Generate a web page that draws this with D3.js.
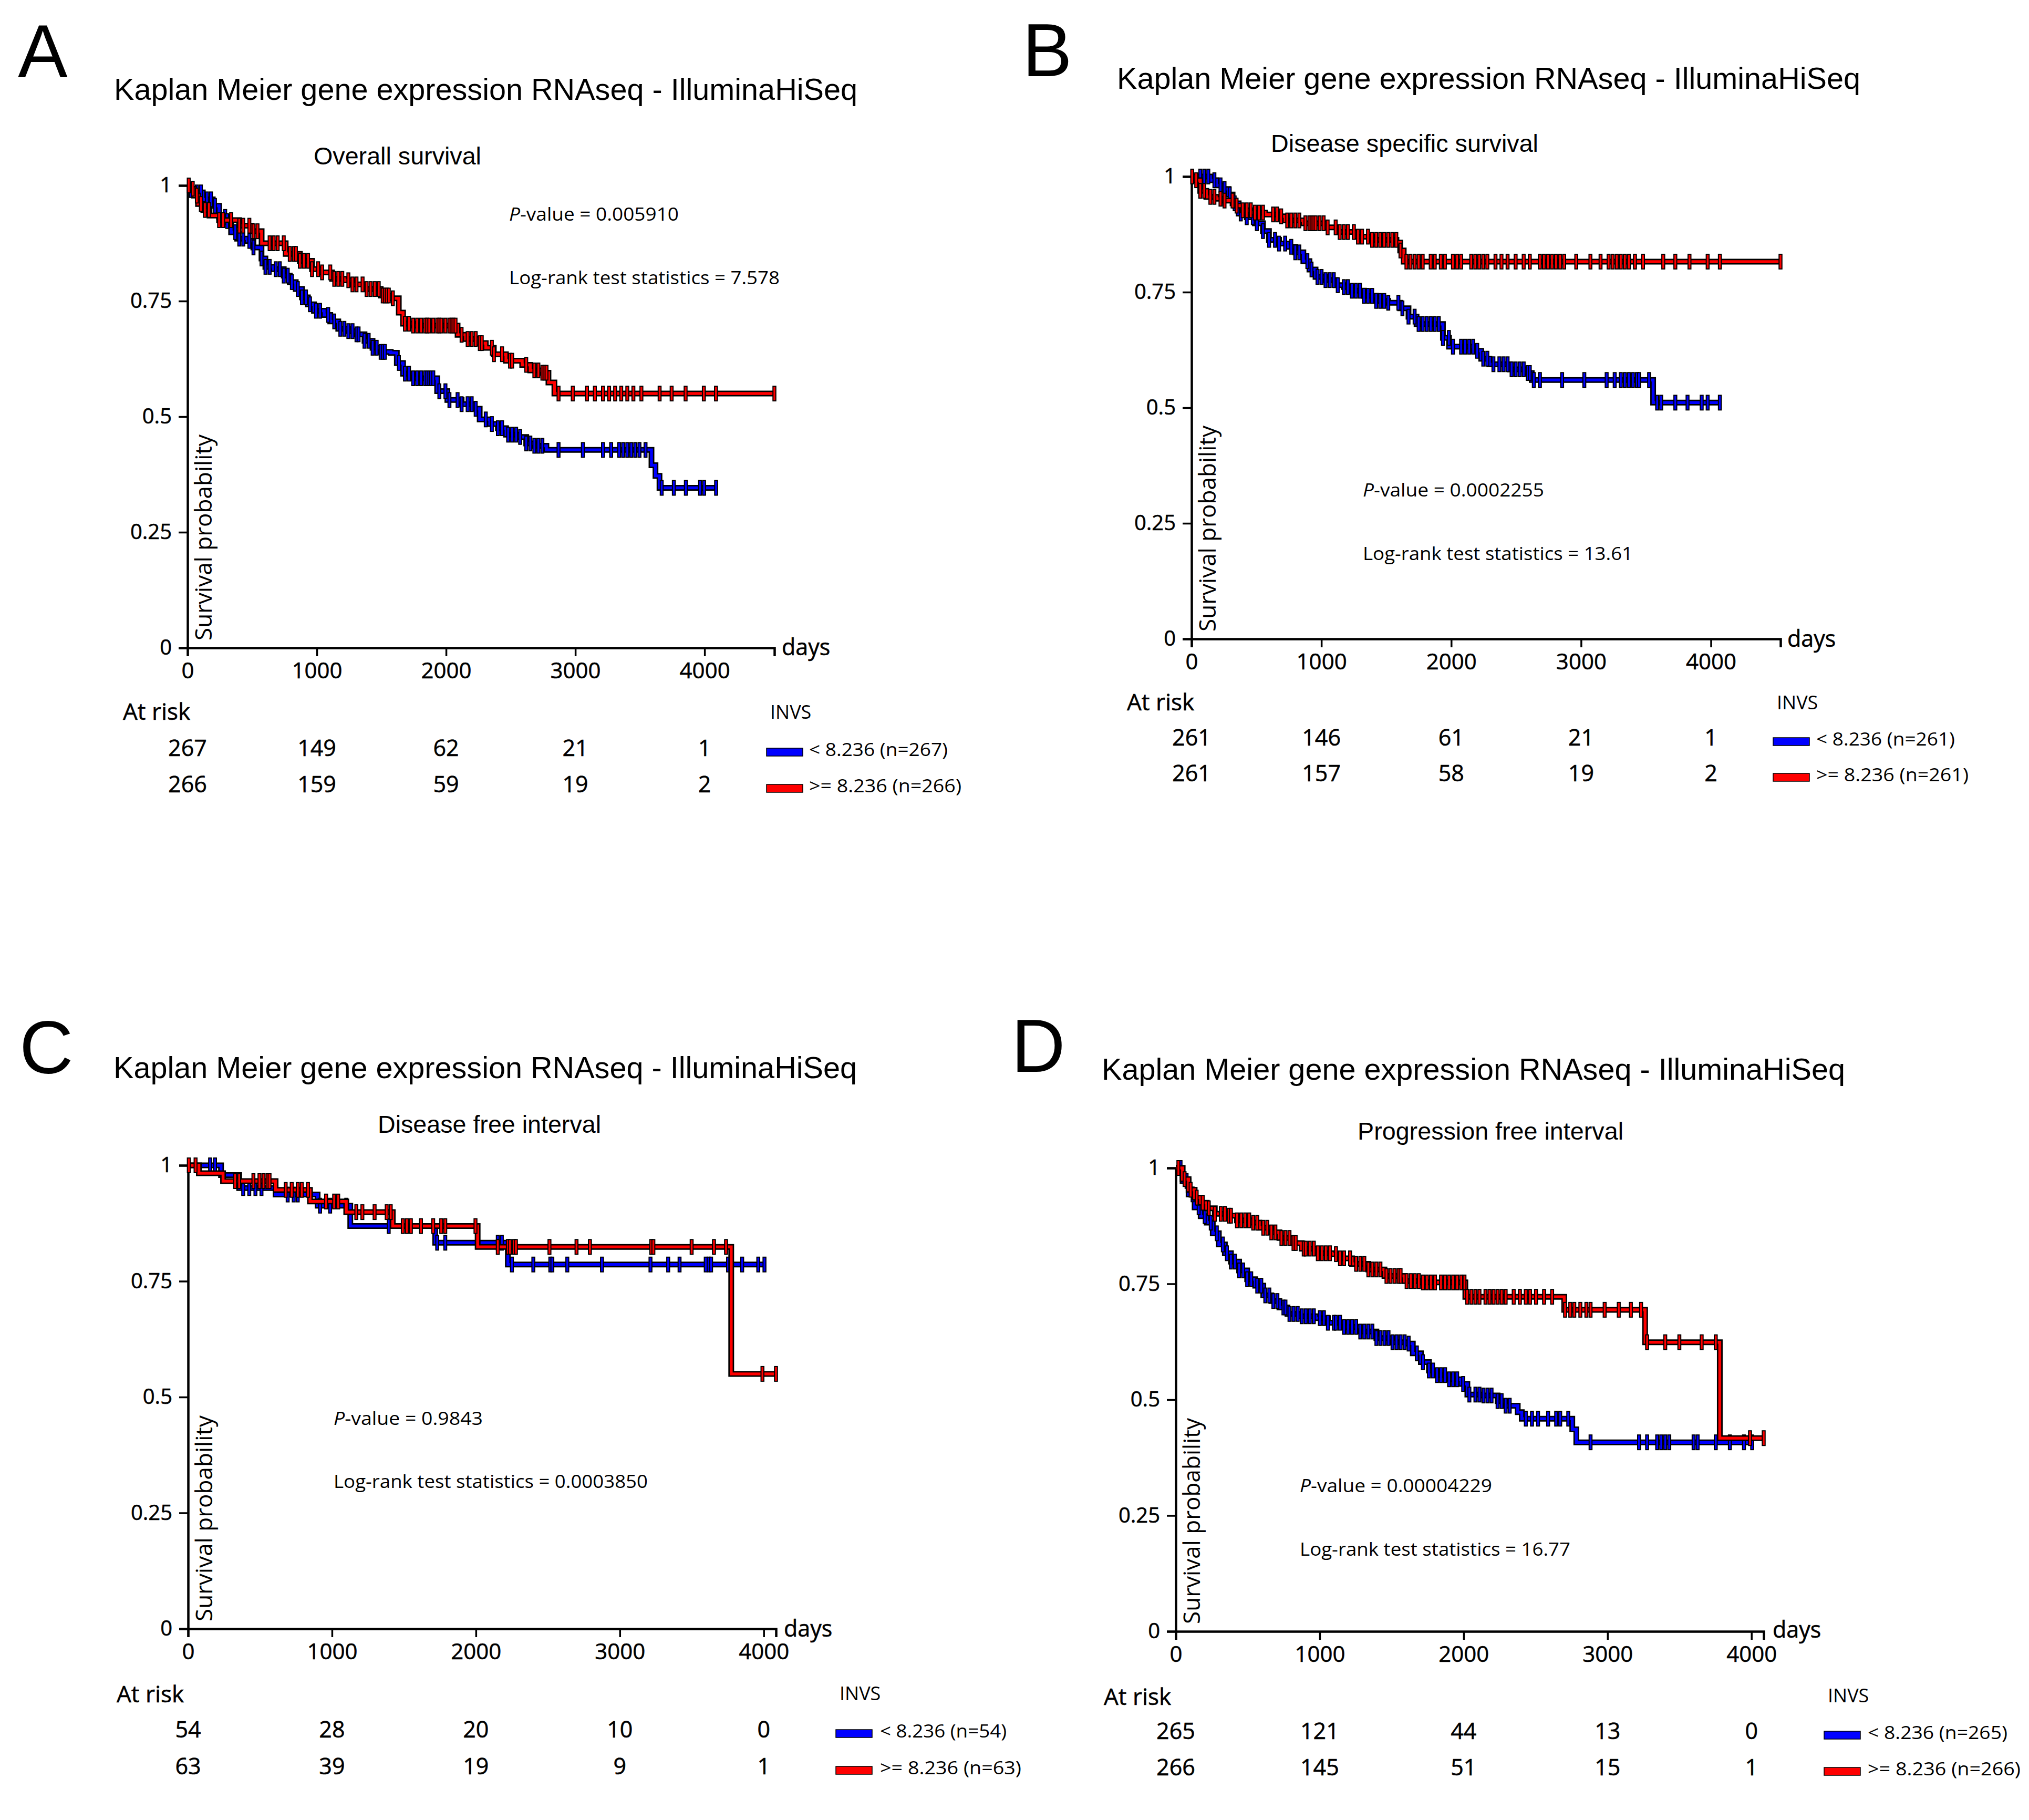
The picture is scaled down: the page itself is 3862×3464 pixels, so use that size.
<!DOCTYPE html>
<html><head><meta charset="utf-8">
<script src="https://cdn.jsdelivr.net/npm/d3@7/dist/d3.min.js"></script>
<style>body{margin:0;background:#fff}svg{display:block}</style>
</head><body>
<svg id="c" width="3862" height="3464" xmlns="http://www.w3.org/2000/svg"></svg>
<script>
// ---------------- DATA ----------------
const xTicks = [0, 1000, 2000, 3000, 4000];
const yTicks = [0, 0.25, 0.5, 0.75, 1];
const panelLetters = ['A', 'B', 'C', 'D'];
const mainTitle = 'Kaplan Meier gene expression RNAseq - IlluminaHiSeq';
const subtitles = ['Overall survival', 'Disease specific survival', 'Disease free interval', 'Progression free interval'];
const pValues = ['0.005910', '0.0002255', '0.9843', '0.00004229'];
const logRankStats = ['7.578', '13.61', '0.0003850', '16.77'];
const geneName = 'INVS';
const cutoff = '8.236';
const nLow = [267, 261, 54, 265];
const nHigh = [266, 261, 63, 266];
const atRiskLow = [[267, 149, 62, 21, 1], [261, 146, 61, 21, 1], [54, 28, 20, 10, 0], [265, 121, 44, 13, 0]];
const atRiskHigh = [[266, 159, 59, 19, 2], [261, 157, 58, 19, 2], [63, 39, 19, 9, 1], [266, 145, 51, 15, 1]];

// Panel A: overall survival  [day, survival after drop]
const aLowSteps = [[25,.99],[57,.985],[118,.97],[195,.956],[244,.932],[305,.923],[337,.899],[384,.885],[462,.88],[509,.866],[572,.842],[602,.824],[665,.819],[744,.805],[791,.791],[837,.776],[885,.758],[931,.743],[978,.729],[1057,.72],[1104,.706],[1166,.69],[1244,.685],[1307,.678],[1369,.664],[1431,.649],[1494,.64],[1572,.638],[1619,.616],[1667,.593],[1744,.583],[1931,.555],[2010,.536],[2120,.527],[2213,.517],[2260,.494],[2338,.484],[2401,.475],[2464,.461],[2557,.456],[2620,.442],[2682,.437],[2776,.428],[3589,.395],[3620,.372],[3651,.346]];
const aLowCensor = [25,72,103,150,181,212,291,306,369,400,431,478,510,572,603,635,682,713,744,775,807,853,885,916,947,994,1025,1088,1135,1182,1213,1244,1276,1307,1323,1369,1401,1432,1463,1494,1510,1526,1635,1682,1713,1745,1776,1807,1838,1854,1870,1885,1901,1948,1995,2026,2089,2120,2167,2198,2229,2307,2354,2401,2433,2480,2511,2542,2573,2620,2652,2683,2714,2745,2870,3058,3214,3277,3339,3370,3402,3433,3464,3496,3543,3668,3762,3855,3965,3996,4089];
const aHighSteps = [[20,.993],[50,.978],[81,.96],[122,.947],[170,.935],[244,.925],[399,.913],[492,.901],[573,.875],[759,.852],[869,.837],[963,.819],[1024,.812],[1118,.798],[1212,.795],[1276,.786],[1370,.776],[1494,.762],[1572,.756],[1634,.725],[1667,.701],[1745,.697],[2089,.677],[2151,.668],[2244,.659],[2307,.649],[2369,.635],[2463,.621],[2589,.612],[2651,.6],[2745,.595],[2792,.574],[2838,.55]];
const aHighCensor = [9,40,72,103,134,165,244,275,337,400,431,478,510,541,635,666,697,744,791,822,838,869,900,932,963,1010,1041,1104,1135,1166,1197,1244,1276,1307,1354,1385,1416,1448,1479,1510,1526,1541,1557,1588,1682,1713,1745,1776,1807,1838,1854,1870,1901,1932,1948,1964,1995,2026,2042,2057,2073,2120,2167,2198,2229,2261,2276,2354,2370,2433,2495,2511,2620,2683,2714,2745,2761,2777,2870,2980,3090,3151,3214,3261,3308,3355,3402,3449,3511,3652,3745,3853,3994,4088,4540];

// Panel B: disease specific survival
const bLowSteps = [[145,.992],[191,.981],[239,.973],[285,.961],[316,.942],[363,.92],[425,.912],[488,.899],[550,.882],[596,.863],[674,.855],[737,.848],[799,.836],[861,.817],[908,.799],[955,.783],[1032,.776],[1110,.765],[1172,.761],[1235,.753],[1328,.742],[1421,.731],[1515,.727],[1607,.715],[1671,.697],[1733,.681],[1936,.651],[1983,.632],[2170,.623],[2231,.606],[2294,.594],[2450,.583],[2574,.575],[2620,.56],[3555,.511]];
const bLowCensor = [67,98,129,176,223,254,294,332,379,425,472,503,550,597,643,674,721,768,799,830,892,924,970,1001,1032,1064,1095,1126,1173,1204,1235,1266,1297,1328,1359,1391,1422,1453,1484,1515,1593,1624,1671,1718,1749,1780,1811,1842,1873,1904,1936,1982,2013,2076,2107,2138,2169,2200,2247,2278,2325,2371,2403,2434,2465,2496,2527,2558,2589,2605,2636,2683,2854,3025,3197,3259,3306,3337,3368,3399,3430,3446,3524,3586,3617,3726,3820,3929,3975,4069];
const bHighSteps = [[20,.992],[67,.969],[114,.956],[190,.952],[239,.948],[332,.937],[393,.927],[457,.922],[566,.918],[674,.914],[721,.905],[861,.899],[1032,.89],[1125,.88],[1266,.87],[1391,.863],[1578,.857],[1607,.84],[1634,.816]];
const bHighCensor = [5,36,67,98,145,176,223,254,316,347,394,425,456,488,519,550,628,659,690,737,768,799,830,877,908,924,939,955,986,1017,1048,1110,1141,1173,1204,1250,1282,1313,1359,1391,1422,1453,1484,1515,1546,1577,1609,1655,1686,1718,1749,1780,1842,1873,1920,1951,2013,2045,2076,2154,2185,2216,2247,2278,2341,2387,2434,2496,2558,2605,2683,2714,2745,2776,2807,2839,2870,2963,3072,3150,3212,3243,3275,3306,3337,3368,3415,3477,3633,3726,3835,3975,4069,4536];

// Panel C: disease free interval
const cLowSteps = [[229,.979],[355,.951],[608,.937],[900,.913],[1127,.869],[1717,.833],[2222,.786]];
const cLowCensor = [153,187,383,425,468,510,692,734,762,917,987,1099,1394,1731,1787,2152,2180,2250,2399,2517,2531,2635,2876,3213,3336,3415,3597,3617,3634,3752,3850,3962,4005];
const cHighSteps = [[75,.983],[243,.966],[608,.947],[847,.922],[1099,.899],[1422,.869],[2012,.824],[3774,.55]];
const cHighCensor = [5,52,327,355,454,496,524,552,566,678,720,762,790,833,959,1015,1043,1169,1211,1296,1380,1408,1492,1520,1548,1618,1703,1759,1787,1997,2152,2222,2236,2264,2278,2511,2699,2792,3218,3233,3499,3654,3738,3991,4085];

// Panel D: progression free interval
const dLowSteps = [[47,.972],[89,.943],[131,.915],[173,.896],[215,.882],[257,.859],[299,.835],[341,.816],[383,.798],[440,.779],[496,.76],[552,.746],[608,.725],[664,.713],[720,.699],[776,.685],[861,.68],[973,.676],[1057,.666],[1169,.657],[1282,.647],[1394,.633],[1506,.624],[1604,.621],[1647,.6],[1703,.581],[1759,.563],[1815,.553],[1899,.544],[1983,.534],[2026,.511],[2124,.509],[2236,.497],[2292,.487],[2376,.473],[2404,.459],[2755,.436],[2783,.408]];
const dLowCensor = [33,75,117,159,201,243,285,327,355,383,411,440,468,496,524,566,594,622,650,678,706,748,762,790,818,847,875,903,931,959,1001,1029,1057,1099,1113,1141,1169,1197,1225,1253,1282,1310,1338,1366,1394,1422,1450,1478,1506,1534,1562,1590,1618,1675,1717,1759,1787,1815,1843,1871,1899,1927,1955,1997,2040,2082,2110,2138,2166,2194,2236,2264,2292,2320,2432,2475,2517,2587,2643,2671,2727,2882,3219,3275,3345,3373,3401,3429,3598,3626,3752,3850,3948,4005];
const dHighSteps = [[47,.976],[89,.953],[131,.936],[173,.925],[215,.913],[271,.901],[355,.897],[425,.887],[524,.882],[580,.871],[664,.861],[720,.849],[804,.838],[875,.826],[973,.816],[1085,.814],[1141,.805],[1225,.793],[1338,.781],[1450,.767],[1590,.756],[1700,.753],[2012,.722],[2699,.694],[3261,.624],[3780,.417]];
const dHighCensor = [18,61,103,145,187,229,271,313,341,369,383,425,454,482,510,538,566,608,636,664,692,734,762,790,818,833,889,903,931,959,987,1015,1043,1071,1113,1141,1169,1211,1253,1282,1310,1338,1366,1394,1422,1464,1492,1520,1548,1562,1604,1633,1661,1689,1717,1745,1773,1801,1843,1871,1899,1927,1955,1983,2006,2025,2054,2082,2110,2152,2180,2208,2236,2264,2292,2348,2391,2432,2461,2503,2559,2615,2705,2741,2769,2811,2853,2882,2980,3078,3162,3233,3275,3401,3499,3654,3752,3990,4085];

const lowSteps = [aLowSteps, bLowSteps, cLowSteps, dLowSteps];
const lowCensor = [aLowCensor, bLowCensor, cLowCensor, dLowCensor];
const highSteps = [aHighSteps, bHighSteps, cHighSteps, dHighSteps];
const highCensor = [aHighCensor, bHighCensor, cHighCensor, dHighCensor];
const colorLow = '#0000ff';
const colorHigh = '#ff0000';

// ---------------- LAYOUT ----------------
const layout = [
 {ox:357, x1:1474, y0:1233, y1:353, letter:[34,147], title:[217,190], sub:[597,313,319], stat:[969,420,541,323,515], days:[1488,1247], atRisk:[234,1370], rows:[1439,1508], invs:[1466,1368], swatch:1459, legText:1540, legW:[264,290]},
 {ox:2268, x1:3389, y0:1216, y1:336, letter:[1946,145], title:[2126,169], sub:[2419,289,509], stat:[2594,945,1066,345,514], days:[3402,1231], atRisk:[2145,1352], rows:[1419,1487], invs:[3382,1350], swatch:3375, legText:3457, legW:[264,290]},
 {ox:358, x1:1477, y0:3100, y1:2218, letter:[37,2043], title:[216,2052], sub:[719,2156,425], stat:[635,2712,2832,284,598], days:[1492,3115], atRisk:[222,3240], rows:[3307,3377], invs:[1598,3236], swatch:1591, legText:1675, legW:[241,269]},
 {ox:2238, x1:3357, y0:3105, y1:2223, letter:[1925,2040], title:[2097,2055], sub:[2584,2169,506], stat:[2474,2840,2961,366,515], days:[3374,3117], atRisk:[2101,3245], rows:[3310,3379], invs:[3479,3240], swatch:3472, legText:3555, legW:[266,291]}
];

const SANS = "'Open Sans','Noto Sans','DejaVu Sans',sans-serif";
const ARIAL = "'Liberation Sans',Arial,sans-serif";
const svg = d3.select('#c');
svg.append('rect').attr('width',3862).attr('height',3464).attr('fill','#fff');

function survAt(steps, t) {
  let s = 1;
  for (const st of steps) { if (st[0] <= t) s = st[1]; }
  return s;
}

function txt(g, x, y, text, size, family, width) {
  const t = g.append('text').attr('x', x).attr('y', y).attr('font-size', size)
    .attr('font-family', family).attr('fill', '#000').text(text);
  if (width) t.attr('textLength', width).attr('lengthAdjust', 'spacingAndGlyphs');
  return t;
}

for (let i = 0; i < 4; i++) {
  const L = layout[i];
  const g = svg.append('g');
  const allT = lowCensor[i].concat(highCensor[i]);
  const xMax = d3.max(allT);
  const x = d3.scaleLinear().domain([0, xMax]).range([L.ox, L.x1]);
  const y = d3.scaleLinear().domain([0, 1]).range([L.y0, L.y1]);

  // letter, titles
  txt(g, L.letter[0], L.letter[1], panelLetters[i], 142, ARIAL);
  txt(g, L.title[0], L.title[1], mainTitle, 58, ARIAL, 1415);
  txt(g, L.sub[0], L.sub[1], subtitles[i], 47, ARIAL, L.sub[2]);

  // axes
  const xa = g.append('g').attr('transform', `translate(0,${L.y0})`)
    .call(d3.axisBottom(x).tickValues(xTicks).tickSize(16).tickPadding(12).tickFormat(d3.format('d')));
  const ya = g.append('g').attr('transform', `translate(${L.ox},0)`)
    .call(d3.axisLeft(y).tickValues(yTicks).tickSize(17).tickPadding(13).tickFormat(d => String(d)));
  [xa, ya].forEach(a => {
    a.attr('font-family', SANS).attr('font-size', 42);
    a.select('.domain').attr('stroke', '#000').attr('stroke-width', 4.5);
    a.selectAll('.tick line').attr('stroke', '#000').attr('stroke-width', 3.5);
    a.selectAll('.tick text').attr('fill', '#000').attr('stroke', '#000').attr('stroke-width', 0.6);
  });
  ya.attr('font-size', 40);

  txt(g, L.days[0], L.days[1], 'days', 43, SANS).attr('stroke', '#000').attr('stroke-width', 0.6);
  txt(g, 0, 0, 'Survival probability', 43, SANS, 392)
    .attr('transform', `translate(${L.ox + 46},${L.y0 - 14}) rotate(-90)`);

  // stats
  const p = txt(g, L.stat[0], L.stat[1], '', 35, SANS, L.stat[3]);
  p.append('tspan').attr('font-style', 'italic').text('P');
  p.append('tspan').text('-value = ' + pValues[i]);
  txt(g, L.stat[0], L.stat[2], 'Log-rank test statistics = ' + logRankStats[i], 35, SANS, L.stat[4]);

  // curves
  const line = d3.line().x(d => x(d[0])).y(d => y(d[1])).curve(d3.curveStepAfter);
  function drawGroup(steps, cens, color) {
    const end = d3.max(cens);
    const pts = [[0, 1]].concat(steps, [[end, steps[steps.length - 1][1]]]);
    const cg = g.append('g');
    cg.append('path').attr('d', line(pts)).attr('fill', 'none').attr('stroke', '#000')
      .attr('stroke-width', 11).attr('stroke-linejoin', 'miter');
    cg.append('path').attr('d', line(pts)).attr('fill', 'none').attr('stroke', color)
      .attr('stroke-width', 5.5).attr('stroke-linejoin', 'miter');
    cens.forEach(c => {
      const yy = y(survAt(steps, c));
      const xx = x(c);
      cg.append('line').attr('x1', xx).attr('x2', xx).attr('y1', yy - 15).attr('y2', yy + 15)
        .attr('stroke', '#000').attr('stroke-width', 7.5);
      cg.append('line').attr('x1', xx).attr('x2', xx).attr('y1', yy - 13).attr('y2', yy + 13)
        .attr('stroke', color).attr('stroke-width', 3.5);
    });
  }
  drawGroup(lowSteps[i], lowCensor[i], colorLow);
  drawGroup(highSteps[i], highCensor[i], colorHigh);

  // at risk table
  txt(g, L.atRisk[0], L.atRisk[1], 'At risk', 44, SANS).attr('stroke', '#000').attr('stroke-width', 0.6);
  xTicks.forEach((t, k) => {
    txt(g, x(t), L.rows[0], String(atRiskLow[i][k]), 43, SANS).attr('text-anchor', 'middle').attr('stroke', '#000').attr('stroke-width', 0.6);
    txt(g, x(t), L.rows[1], String(atRiskHigh[i][k]), 43, SANS).attr('text-anchor', 'middle').attr('stroke', '#000').attr('stroke-width', 0.6);
  });

  // legend
  txt(g, L.invs[0], L.invs[1], geneName, 36, SANS);
  [[colorLow, '< ' + cutoff + ' (n=' + nLow[i] + ')'], [colorHigh, '>= ' + cutoff + ' (n=' + nHigh[i] + ')']].forEach((d, k) => {
    g.append('rect').attr('x', L.swatch).attr('y', L.rows[k] - 15).attr('width', 69).attr('height', 15)
      .attr('fill', d[0]).attr('stroke', '#000').attr('stroke-width', 1.5);
    txt(g, L.legText, L.rows[k], d[1], 35, SANS, L.legW[k]);
  });
}
</script>
</body></html>
